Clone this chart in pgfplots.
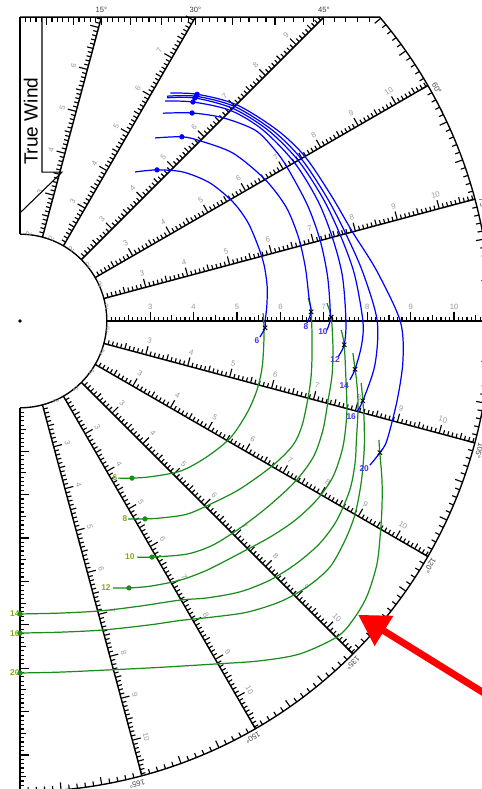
\documentclass[border=0pt]{standalone}
\usepackage{pgfplots}
\usepackage{pgfplotstable}
\pgfplotsset{compat=1.18}
\usepackage{fontspec}
\setmainfont{Liberation Sans}
\usetikzlibrary{arrows.meta}
\definecolor{bl}{RGB}{0,0,255}
\definecolor{gr}{RGB}{25,140,25}
\definecolor{lab}{RGB}{150,150,160}
\definecolor{glab}{RGB}{140,165,20}
\definecolor{blab}{RGB}{70,50,240}

% blue (upwind) curves: true wind angle (deg), boat speed (kn)
\pgfplotstableread{
a r
37.7 4.34
42.2 4.70
47.6 5.09
54.0 5.41
60.8 5.62
66.5 5.72
72.3 5.75
77.0 5.77
82.0 5.75
86.3 5.70
90.0 5.65
91.6 5.65
93.8 5.54
}\bsix
\pgfplotstableread{
a r
36.4 5.24
41.3 5.65
45.0 5.87
51.8 6.25
60.0 6.52
66.8 6.67
73.2 6.70
79.3 6.69
85.3 6.68
88.2 6.71
90.4 6.61
}\beight
\pgfplotstableread{
a r
34.5 5.81
39.6 6.22
45.0 6.62
51.0 6.98
56.0 7.07
60.0 7.10
68.0 7.14
75.0 7.16
82.0 7.16
89.3 7.15
91.7 7.07
}\bten
\pgfplotstableread{
a r
33.4 6.07
38.3 6.43
45.0 6.86
51.8 7.12
60.0 7.30
68.0 7.40
75.0 7.45
82.0 7.50
90.0 7.51
94.2 7.49
96.5 7.37
}\btwelve
\pgfplotstableread{
a r
33.4 6.16
38.1 6.53
45.0 6.93
52.4 7.21
60.0 7.40
68.0 7.53
75.0 7.64
82.0 7.78
90.0 7.90
94.0 7.89
98.2 7.80
100.1 7.72
}\bfourteen
\pgfplotstableread{
a r
33.2 6.19
38.1 6.58
45.0 6.99
52.9 7.29
60.0 7.48
68.0 7.62
75.0 7.77
82.0 7.98
90.0 8.23
97.0 8.24
103.1 8.11
105.1 8.04
}\bsixteen
\pgfplotstableread{
a r
33.4 6.29
38.0 6.63
45.0 7.05
53.4 7.38
60.0 7.58
68.0 7.73
75.0 7.93
82.0 8.30
90.0 8.76
95.8 8.87
101.8 8.88
108.0 8.89
110.1 8.83
112.4 8.72
}\btwenty
\pgfplotstableread{
a r
42.2 4.70
41.3 5.65
39.6 6.22
38.3 6.43
38.1 6.53
38.1 6.58
38.0 6.63
}\bdots
\pgfplotstableread{
a r
91.6 5.65
88.2 6.71
89.3 7.17
94.2 7.49
98.2 7.80
103.1 8.11
110.1 8.83
}\xmarks

% green (downwind) curves, cartesian (kn): x across, y along wind
\pgfplotstableread{
x y
5.60 0.18
5.62 -0.09
5.62 -0.44
5.58 -1.06
5.46 -1.59
5.23 -2.12
4.84 -2.70
4.26 -3.16
3.69 -3.46
3.00 -3.59
2.58 -3.62
2.26 -3.62
}\gsix
\pgfplotstableread{
x y
6.64 0.53
6.71 0.21
6.73 -0.60
6.71 -1.24
6.64 -1.75
6.50 -2.40
6.29 -2.86
5.81 -3.34
5.07 -3.87
4.45 -4.19
3.85 -4.45
3.23 -4.54
2.88 -4.56
2.49 -4.56
}\geight
\pgfplotstableread{
x y
7.07 0.41
7.17 0.09
7.21 -0.60
7.19 -1.24
7.10 -1.82
6.98 -2.51
6.76 -3.13
6.34 -3.70
5.71 -4.28
5.07 -4.77
4.45 -5.16
3.85 -5.37
3.04 -5.44
2.70 -5.44
}\gten
\pgfplotstableread{
x y
7.40 -0.21
7.47 -0.55
7.51 -1.36
7.53 -2.12
7.44 -2.90
7.21 -3.59
6.84 -4.12
6.34 -4.59
5.76 -4.98
5.07 -5.35
4.31 -5.74
3.69 -5.97
3.00 -6.11
2.51 -6.15
2.14 -6.15
}\gtwelve
\pgfplotstableread{
x y
7.67 -0.74
7.72 -1.11
7.76 -1.43
7.79 -1.98
7.75 -2.75
7.72 -3.27
7.60 -3.89
7.30 -4.59
6.91 -5.12
6.38 -5.58
5.76 -5.97
5.07 -6.24
4.31 -6.38
3.69 -6.43
2.76 -6.57
1.84 -6.68
0.92 -6.73
0.00 -6.75
}\gfourteen
\pgfplotstableread{
x y
7.86 -1.43
7.90 -1.84
7.93 -2.35
7.93 -2.97
7.86 -3.73
7.72 -4.45
7.49 -5.05
7.14 -5.67
6.61 -6.13
5.99 -6.47
5.23 -6.71
4.45 -6.82
3.69 -6.90
3.00 -7.00
1.91 -7.12
0.92 -7.17
0.00 -7.19
}\gsixteen
\pgfplotstableread{
x y
8.27 -2.74
8.29 -3.04
8.34 -3.66
8.34 -4.29
8.30 -4.93
8.22 -5.62
7.99 -6.35
7.67 -6.89
7.30 -7.28
6.45 -7.67
5.53 -7.83
4.54 -7.90
3.23 -7.98
2.24 -8.03
0.92 -8.09
0.00 -8.11
}\gtwenty
\pgfplotstableread{
x y
2.58 -3.62
2.88 -4.56
3.04 -5.44
2.51 -6.15
0.00 -6.75
0.00 -7.19
0.00 -8.11
}\gdots

\begin{document}
\begin{tikzpicture}
\begin{axis}[
  x=1cm, y=1cm,
  xmin=-0.461, xmax=10.622, ymin=-10.783, ymax=7.396,
  hide axis, clip=false,
]
\coordinate (SW) at (axis cs:-0.461,-10.783);
\coordinate (NE) at (axis cs:10.622,7.396);

\pgfplotsextra{
  % frame
  \draw[line width=0.9pt] (axis cs:0,7) -- (axis cs:8.29,7) arc[start angle=40.17, end angle=-90, radius=10.85cm];
  \draw[line width=0.9pt] (axis cs:0,2) arc[start angle=90, end angle=-90, radius=2cm];
  \draw[line width=0.9pt] (axis cs:0,2) -- (axis cs:0,7);
  \draw[line width=0.9pt] (axis cs:0,-2) -- (axis cs:0,-10.85);
  \foreach \k in {21,...,108} {
    \pgfmathsetmacro{\L}{mod(\k,10)==0 ? 0.2 : (mod(\k,5)==0 ? 0.14 : 0.1)}
    \pgfmathsetmacro{\yy}{-\k/10}
    \draw[line width=0.75pt] (axis cs:0,\yy) -- ++(0:\L cm);
  }
  % spokes with ticks and labels
  \foreach \t in {15,30,...,165} {
    \pgfmathsetmacro{\re}{min(7/max(cos(\t),0.01),10.85)}
    \pgfmathsetmacro{\xa}{2*sin(\t)}
    \pgfmathsetmacro{\ya}{2*cos(\t)}
    \pgfmathsetmacro{\xb}{\re*sin(\t)}
    \pgfmathsetmacro{\yb}{\re*cos(\t)}
    \draw[line width=0.95pt] (axis cs:\xa,\ya) -- (axis cs:\xb,\yb);
    \pgfmathtruncatemacro{\n}{floor(\re*10-0.3)}
    \foreach \k in {21,...,\n} {
      \pgfmathsetmacro{\L}{mod(\k,10)==0 ? 0.2 : (mod(\k,5)==0 ? 0.14 : 0.1)}
      \pgfmathsetmacro{\xc}{\k/10*sin(\t)}
      \pgfmathsetmacro{\yc}{\k/10*cos(\t)}
      \draw[line width=0.75pt] (axis cs:\xc,\yc) -- ++({180-\t}:\L cm);
    }
    \pgfmathtruncatemacro{\m}{floor(\re-0.25)}
    \foreach \k in {2,...,\m} {
      \pgfmathsetmacro{\xl}{\k*sin(\t)-0.33*cos(\t)}
      \pgfmathsetmacro{\yl}{\k*cos(\t)+0.33*sin(\t)}
      \pgfmathsetmacro{\rot}{90-\t}
      \node[text=lab, font=\fontsize{5}{5}\selectfont, rotate=\rot, inner sep=0pt] at (axis cs:\xl,\yl) {\k};
    }
  }
  % boundary degree ticks
  \foreach \t in {1,...,49} {
    \pgfmathsetmacro{\L}{mod(\t,5)==0 ? 0.18 : 0.11}
    \pgfmathsetmacro{\xt}{7*tan(\t)}
    \draw[line width=0.75pt] (axis cs:\xt,7) -- ++(-90:\L cm);
  }
  \foreach \t in {50,...,179} {
    \pgfmathsetmacro{\L}{mod(\t,5)==0 ? 0.18 : 0.11}
    \pgfmathsetmacro{\xt}{10.85*sin(\t)}
    \pgfmathsetmacro{\yt}{10.85*cos(\t)}
    \draw[line width=0.75pt] (axis cs:\xt,\yt) -- ++({270-\t}:\L cm);
  }
  % degree labels
  \foreach \t in {15,30,45} {
    \pgfmathsetmacro{\xt}{7*tan(\t)}
    \node[font=\fontsize{5}{5}\selectfont, text=black!75, inner sep=0pt] at (axis cs:\xt,7.16) {\t°};
  }
  \foreach \t in {60,75,...,165} {
    \pgfmathsetmacro{\xt}{11.0*sin(\t+0.8)}
    \pgfmathsetmacro{\yt}{11.0*cos(\t+0.8)}
    \pgfmathsetmacro{\rot}{-\t}
    \node[font=\fontsize{5}{5}\selectfont, text=black!75, inner sep=0pt, rotate=\rot] at (axis cs:\xt,\yt) {\t°};
  }
  % centre dot
  \fill (axis cs:0,0) circle[radius=0.045cm];
  % True Wind arrow
  \draw[line width=0.7pt] (axis cs:0.507,7) -- (axis cs:0.507,3.43) -- (axis cs:0.968,3.43) -- (axis cs:0,2.49);
  \node[rotate=90, font=\fontsize{12.5}{12.5}\selectfont, inner sep=0pt] at (axis cs:0.25,4.6) {True Wind};
}

% green curves
\addplot[gr, line width=0.8pt, smooth] table[x=x,y=y] {\gsix};
\addplot[gr, line width=0.8pt, smooth] table[x=x,y=y] {\geight};
\addplot[gr, line width=0.8pt, smooth] table[x=x,y=y] {\gten};
\addplot[gr, line width=0.8pt, smooth] table[x=x,y=y] {\gtwelve};
\addplot[gr, line width=0.8pt, smooth] table[x=x,y=y] {\gfourteen};
\addplot[gr, line width=0.8pt, smooth] table[x=x,y=y] {\gsixteen};
\addplot[gr, line width=0.8pt, smooth] table[x=x,y=y] {\gtwenty};
\addplot[only marks, mark=*, mark size=1.5pt, gr] table[x=x,y=y] {\gdots};

% blue curves
\addplot[bl, line width=0.8pt, smooth] table[x expr={\thisrow{r}*sin(\thisrow{a})}, y expr={\thisrow{r}*cos(\thisrow{a})}] {\bsix};
\addplot[bl, line width=0.8pt, smooth] table[x expr={\thisrow{r}*sin(\thisrow{a})}, y expr={\thisrow{r}*cos(\thisrow{a})}] {\beight};
\addplot[bl, line width=0.8pt, smooth] table[x expr={\thisrow{r}*sin(\thisrow{a})}, y expr={\thisrow{r}*cos(\thisrow{a})}] {\bten};
\addplot[bl, line width=0.8pt, smooth] table[x expr={\thisrow{r}*sin(\thisrow{a})}, y expr={\thisrow{r}*cos(\thisrow{a})}] {\btwelve};
\addplot[bl, line width=0.8pt, smooth] table[x expr={\thisrow{r}*sin(\thisrow{a})}, y expr={\thisrow{r}*cos(\thisrow{a})}] {\bfourteen};
\addplot[bl, line width=0.8pt, smooth] table[x expr={\thisrow{r}*sin(\thisrow{a})}, y expr={\thisrow{r}*cos(\thisrow{a})}] {\bsixteen};
\addplot[bl, line width=0.8pt, smooth] table[x expr={\thisrow{r}*sin(\thisrow{a})}, y expr={\thisrow{r}*cos(\thisrow{a})}] {\btwenty};
\addplot[only marks, mark=*, mark size=1.5pt, bl] table[x expr={\thisrow{r}*sin(\thisrow{a})}, y expr={\thisrow{r}*cos(\thisrow{a})}] {\bdots};
\addplot[only marks, mark=x, mark size=2pt, black, line width=0.6pt] table[x expr={\thisrow{r}*sin(\thisrow{a})}, y expr={\thisrow{r}*cos(\thisrow{a})}] {\xmarks};

% curve labels
\begin{scope}[every node/.style={font=\bfseries\fontsize{5.5}{5.5}\selectfont, inner sep=0pt}]
\node[text=blab] at (axis cs:5.46,-0.46) {6};
\node[text=blab] at (axis cs:6.59,-0.12) {8};
\node[text=blab] at (axis cs:6.98,-0.25) {10};
\node[text=blab] at (axis cs:7.26,-0.90) {12};
\node[text=blab] at (axis cs:7.47,-1.50) {14};
\node[text=blab] at (axis cs:7.63,-2.21) {16};
\node[text=blab] at (axis cs:7.93,-3.39) {20};
\node[text=glab] at (axis cs:2.19,-3.62) {6};
\node[text=glab] at (axis cs:2.42,-4.56) {8};
\node[text=glab] at (axis cs:2.53,-5.44) {10};
\node[text=glab] at (axis cs:1.98,-6.15) {12};
\node[text=glab] at (axis cs:-0.12,-6.75) {14};
\node[text=glab] at (axis cs:-0.12,-7.21) {16};
\node[text=glab] at (axis cs:-0.12,-8.11) {20};
\end{scope}

% red pointer
\draw[red, line width=4.5pt, -{Triangle[length=20pt, width=22pt]}] (axis cs:11.3,-8.95) -- (axis cs:7.79,-6.77);
\end{axis}
\pgfresetboundingbox
\useasboundingbox (SW) rectangle (NE);
\end{tikzpicture}
\end{document}
